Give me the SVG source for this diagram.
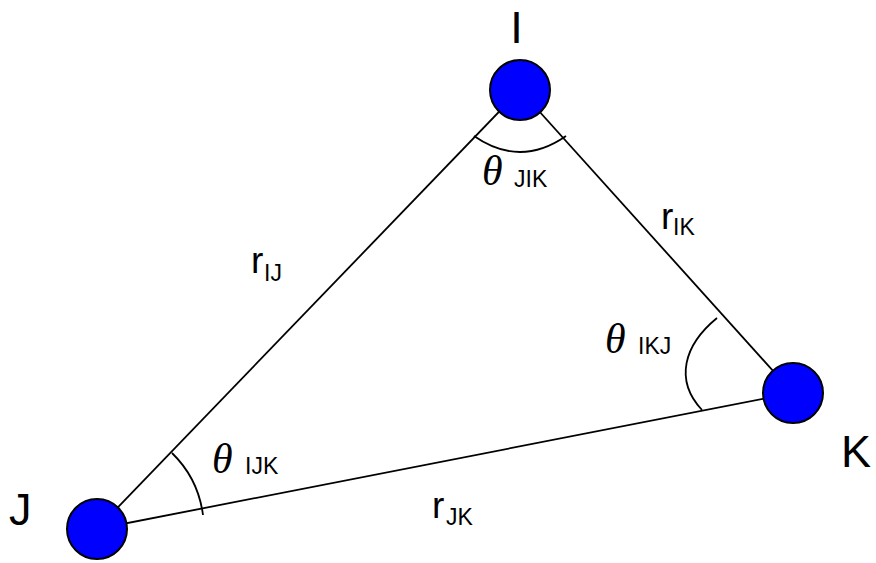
<svg xmlns="http://www.w3.org/2000/svg" width="876" height="563" viewBox="0 0 876 563">
<style>
.edge{stroke:#000;stroke-width:1.8;fill:none}
.arc{stroke:#000;stroke-width:1.8;fill:none}
.node{fill:#0000ff;stroke:#000;stroke-width:2}
.big{font-family:"Liberation Sans",Arial,sans-serif;font-size:45px;fill:#000}
.r{font-family:"Liberation Sans",Arial,sans-serif;font-size:37px;fill:#000}
.sub{font-family:"Liberation Sans",Arial,sans-serif;font-size:23px;fill:#000}
.th{font-family:"Liberation Serif","Times New Roman",serif;font-style:italic;font-size:42px;fill:#000}
</style>
<rect width="876" height="563" fill="#fff"/>
<g id="connectors">
<line class="edge" x1="520" y1="90" x2="97" y2="529"/>
<line class="edge" x1="520" y1="90" x2="793" y2="393"/>
<line class="edge" x1="97" y1="529" x2="793" y2="393"/>
</g>
<g id="angles">
<path class="arc" d="M474,136 Q520,168 566,136"/>
<path class="arc" d="M172,453 A106,106 0 0 1 203,515"/>
<path class="arc" d="M717,318 C684,345 674,380 702,410"/>
</g>
<g id="node-I">
<circle class="node" cx="520" cy="90" r="30"/>
<text class="big" x="516.5" y="43" text-anchor="middle">I</text>
</g>
<g id="node-J">
<circle class="node" cx="97" cy="529" r="30"/>
<text class="big" x="9" y="525">J</text>
</g>
<g id="node-K">
<circle class="node" cx="793" cy="393" r="30"/>
<text class="big" x="841" y="467">K</text>
</g>
<g id="labels">
<text class="r" x="251" y="273">r</text><text class="sub" x="264" y="281">IJ</text>
<text class="r" x="661" y="229">r</text><text class="sub" x="673" y="235">IK</text>
<text class="r" x="432" y="518">r</text><text class="sub" x="446" y="525">JK</text>
<text class="th" x="482" y="185">θ</text><text class="sub" x="514" y="187">JIK</text>
<text class="th" x="605" y="353">θ</text><text class="sub" x="638" y="354">IKJ</text>
<text class="th" x="212" y="473">θ</text><text class="sub" x="245" y="474">IJK</text>
</g>
</svg>
